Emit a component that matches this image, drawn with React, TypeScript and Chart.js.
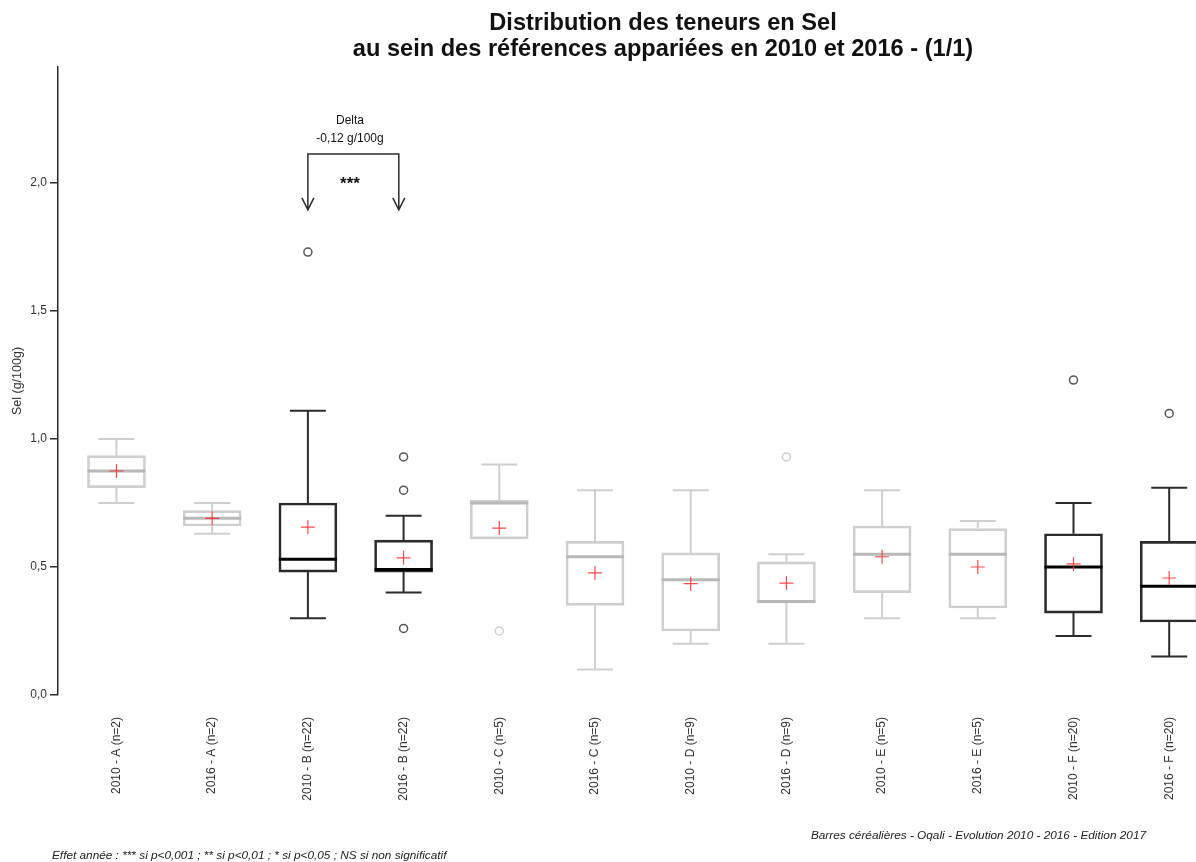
import React, { useEffect, useRef } from "react";
import { Chart, registerables } from "chart.js";

Chart.register(...registerables);

// ---------- Data ----------
const LABELS = [
  "2010 - A (n=2)",
  "2016 - A (n=2)",
  "2010 - B (n=22)",
  "2016 - B (n=22)",
  "2010 - C (n=5)",
  "2016 - C (n=5)",
  "2010 - D (n=9)",
  "2016 - D (n=9)",
  "2010 - E (n=5)",
  "2016 - E (n=5)",
  "2010 - F (n=20)",
  "2016 - F (n=20)",
];
const WHISKER_LOW = [0.75, 0.63, 0.30, 0.40, 0.61, 0.10, 0.20, 0.20, 0.30, 0.30, 0.23, 0.15];
const Q1 = [0.81, 0.66, 0.48, 0.48, 0.61, 0.35, 0.25, 0.36, 0.40, 0.34, 0.32, 0.285];
const MEDIAN = [0.875, 0.69, 0.53, 0.49, 0.75, 0.54, 0.45, 0.365, 0.55, 0.55, 0.50, 0.425];
const Q3 = [0.935, 0.72, 0.75, 0.605, 0.76, 0.60, 0.555, 0.52, 0.66, 0.65, 0.63, 0.60];
const WHISKER_HIGH = [1.00, 0.75, 1.11, 0.70, 0.90, 0.80, 0.80, 0.55, 0.80, 0.68, 0.75, 0.81];
const MEAN = [0.875, 0.69, 0.656, 0.536, 0.652, 0.477, 0.435, 0.437, 0.54, 0.50, 0.512, 0.457];
// pairs with a significant year effect are drawn in black
const SIGNIFICANT = [false, false, true, true, false, false, false, false, false, false, true, true];
const OUTLIER_INDEX = [2, 3, 3, 3, 4, 7, 10, 11];
const OUTLIER_VALUE = [1.73, 0.93, 0.80, 0.26, 0.25, 0.93, 1.23, 1.10];
const Y_TICKS = [0, 0.5, 1, 1.5, 2];

const TITLE_LINES = [
  "Distribution des teneurs en Sel",
  "au sein des références appariées en 2010 et 2016 - (1/1)",
];
const Y_TITLE = "Sel (g/100g)";
const DELTA_LINES = ["Delta", "-0,12 g/100g"];
const DELTA_SIG = "***";
const FOOTER_RIGHT = "Barres céréalières - Oqali - Evolution 2010 - 2016 - Edition 2017";
const FOOTER_LEFT = "Effet année : *** si p<0,001 ; ** si p<0,01 ; * si p<0,05 ; NS si non significatif";

// ---------- Styles ----------
const FONT = "'Liberation Sans', Arial, Helvetica, sans-serif";
const DARK = "#2b2b2b";
const LIGHT = "#cfcfcf";
const MED_DARK = "#000000";
const MED_LIGHT = "#b8b8b8";
const MEAN_COLOR = "rgba(255, 40, 40, 0.85)";
const TEXT = "#333333";

const extrasPlugin = {
  id: "boxExtras",
  afterDatasetDraw(chart: any, args: any) {
    if (args.index !== 0) return;
    const { ctx } = chart;
    const xs = chart.scales.x;
    const ys = chart.scales.y;
    const meta = chart.getDatasetMeta(0);
    ctx.save();
    ctx.lineCap = "butt";
    LABELS.forEach((_, i) => {
      const cx = xs.getPixelForValue(i);
      const bar = meta.data[i];
      const half = bar ? bar.width / 2 : 29;
      const capHalf = half * 0.62;
      const col = SIGNIFICANT[i] ? DARK : LIGHT;
      ctx.strokeStyle = col;
      ctx.lineWidth = 2;
      const yq1 = ys.getPixelForValue(Q1[i]);
      const yq3 = ys.getPixelForValue(Q3[i]);
      const ylo = ys.getPixelForValue(WHISKER_LOW[i]);
      const yhi = ys.getPixelForValue(WHISKER_HIGH[i]);
      ctx.beginPath();
      ctx.moveTo(cx, yq3);
      ctx.lineTo(cx, yhi);
      ctx.moveTo(cx - capHalf, yhi);
      ctx.lineTo(cx + capHalf, yhi);
      if (WHISKER_LOW[i] < Q1[i]) {
        ctx.moveTo(cx, yq1);
        ctx.lineTo(cx, ylo);
        ctx.moveTo(cx - capHalf, ylo);
        ctx.lineTo(cx + capHalf, ylo);
      }
      ctx.stroke();
      // median
      const ym = ys.getPixelForValue(MEDIAN[i]);
      ctx.strokeStyle = SIGNIFICANT[i] ? MED_DARK : MED_LIGHT;
      ctx.lineWidth = 3;
      ctx.beginPath();
      ctx.moveTo(cx - half, ym);
      ctx.lineTo(cx + half, ym);
      ctx.stroke();
    });
    ctx.restore();
  },
  afterDraw(chart: any) {
    const { ctx } = chart;
    const xs = chart.scales.x;
    const ys = chart.scales.y;
    ctx.save();
    // Title
    ctx.fillStyle = "#111";
    ctx.textAlign = "center";
    ctx.textBaseline = "middle";
    ctx.font = `bold 23.6px ${FONT}`;
    ctx.fillText(TITLE_LINES[0], 663, 23);
    ctx.fillText(TITLE_LINES[1], 663, 49);

    // Delta annotation between 2010-B and 2016-B
    const xl = xs.getPixelForValue(2);
    const xr = xs.getPixelForValue(2.95);
    const xm = xs.getPixelForValue(2.44);
    const yt = ys.getPixelForValue(2.113);
    const yb = ys.getPixelForValue(1.895);
    ctx.strokeStyle = DARK;
    ctx.lineWidth = 1.5;
    ctx.beginPath();
    ctx.moveTo(xl, yb);
    ctx.lineTo(xl, yt);
    ctx.lineTo(xr, yt);
    ctx.lineTo(xr, yb);
    ctx.moveTo(xl - 6, yb - 12);
    ctx.lineTo(xl, yb);
    ctx.lineTo(xl + 6, yb - 12);
    ctx.moveTo(xr - 6, yb - 12);
    ctx.lineTo(xr, yb);
    ctx.lineTo(xr + 6, yb - 12);
    ctx.stroke();
    ctx.fillStyle = "#111";
    ctx.font = `12px ${FONT}`;
    ctx.fillText(DELTA_LINES[0], xm, ys.getPixelForValue(2.245));
    ctx.fillText(DELTA_LINES[1], xm, ys.getPixelForValue(2.172));
    ctx.font = `bold 17px ${FONT}`;
    ctx.textBaseline = "alphabetic";
    ctx.fillText(DELTA_SIG, xm, ys.getPixelForValue(1.975));

    // Footers
    ctx.fillStyle = "#222";
    ctx.font = `italic 11.8px ${FONT}`;
    ctx.textAlign = "right";
    ctx.textBaseline = "middle";
    ctx.fillText(FOOTER_RIGHT, 1146, 836);
    ctx.textAlign = "left";
    ctx.fillText(FOOTER_LEFT, 52, 856);
    ctx.restore();
  },
};

export default function App() {
  const canvasRef = useRef<HTMLCanvasElement | null>(null);

  useEffect(() => {
    document.body.style.margin = "0";
    document.body.style.overflow = "hidden";
    const canvas = canvasRef.current;
    if (!canvas) return;

    const boxData = LABELS.map((_, i) => ({ x: i, y: [Q1[i], Q3[i]] }));
    const meanData = LABELS.map((_, i) => ({ x: i, y: MEAN[i] }));
    const outlierData = OUTLIER_INDEX.map((idx, k) => ({ x: idx, y: OUTLIER_VALUE[k] }));

    const chart = new Chart(canvas, {
      type: "bar",
      data: {
        datasets: [
          {
            type: "bar",
            data: boxData as any,
            backgroundColor: "rgba(255,255,255,0)",
            borderColor: LABELS.map((_, i) => (SIGNIFICANT[i] ? DARK : LIGHT)),
            borderWidth: 2,
            borderSkipped: false,
            barThickness: 58,
            order: 3,
          } as any,
          {
            type: "scatter",
            data: outlierData,
            pointStyle: "circle",
            pointRadius: 4,
            pointBorderWidth: 1.5,
            pointBackgroundColor: "rgba(255,255,255,0)",
            pointBorderColor: OUTLIER_INDEX.map((idx) => (SIGNIFICANT[idx] ? "#555" : LIGHT)),
            order: 1,
          } as any,
          {
            type: "scatter",
            data: meanData,
            pointStyle: "cross",
            pointRadius: 7,
            pointBorderWidth: 1.2,
            pointBorderColor: MEAN_COLOR,
            order: 0,
          } as any,
        ],
      },
      options: {
        animation: false,
        responsive: false,
        devicePixelRatio: 1,
        layout: { autoPadding: false, padding: { top: 67, left: 0, right: 0, bottom: 0 } },
        plugins: {
          legend: { display: false },
          title: { display: false },
          tooltip: { enabled: false },
        },
        scales: {
          x: {
            type: "linear",
            min: -0.611,
            max: 11.28,
            offset: false,
            grid: { display: false, drawTicks: true, tickLength: 22 },
            border: { display: false },
            afterBuildTicks: (s: any) => {
              s.ticks = LABELS.map((_, i) => ({ value: i }));
            },
            afterFit: (s: any) => {
              s.height = 167;
              s.paddingLeft = 0;
              s.paddingRight = 0;
            },
            ticks: {
              autoSkip: false,
              minRotation: 90,
              maxRotation: 90,
              padding: 0,
              color: TEXT,
              font: { family: FONT, size: 12 },
              callback: (v: any) => LABELS[Math.round(Number(v))] ?? "",
            },
          },
          y: {
            type: "linear",
            min: 0,
            max: 2.453,
            afterBuildTicks: (s: any) => {
              s.ticks = Y_TICKS.map((v) => ({ value: v }));
            },
            afterFit: (s: any) => {
              s.width = 58;
              s.paddingTop = 0;
              s.paddingBottom = 0;
            },
            grid: {
              display: true,
              drawOnChartArea: false,
              drawTicks: true,
              tickLength: 8,
              color: DARK,
              lineWidth: 1.5,
            },
            border: { display: true, color: DARK, width: 1.5 },
            ticks: {
              padding: 3,
              color: TEXT,
              font: { family: FONT, size: 12 },
              callback: (v: any) => Number(v).toFixed(1).replace(".", ","),
            },
            title: {
              display: true,
              text: Y_TITLE,
              color: TEXT,
              font: { family: FONT, size: 12.5 },
              padding: { top: 10, bottom: 0 },
            },
          },
        },
      } as any,
      plugins: [extrasPlugin],
    });

    return () => {
      chart.destroy();
    };
  }, []);

  return (
    <div style={{ width: 1196, height: 862, position: "relative", background: "#fff" }}>
      <canvas ref={canvasRef} width={1196} height={862} style={{ width: 1196, height: 862, display: "block" }} />
    </div>
  );
}
